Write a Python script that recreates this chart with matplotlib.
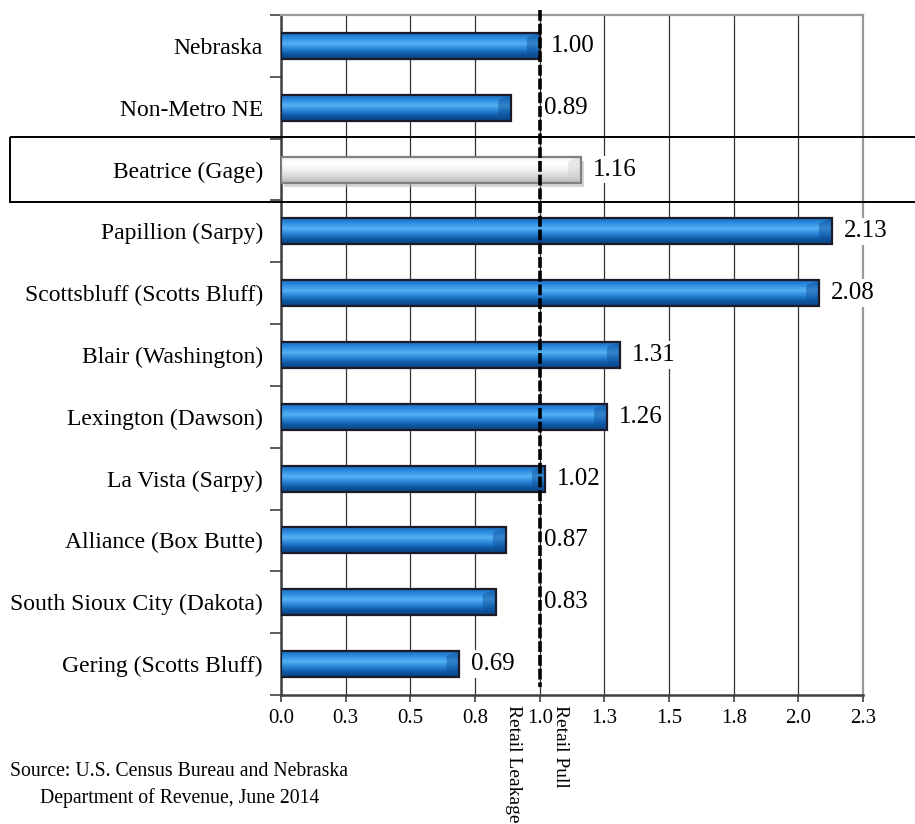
import numpy as np
import matplotlib
matplotlib.use('Agg')
import matplotlib.pyplot as plt
from matplotlib.patches import Rectangle
from matplotlib.colors import LinearSegmentedColormap
import matplotlib.transforms as mtransforms

# data
places = ['Nebraska', 'Non-Metro NE', 'Beatrice (Gage)', 'Papillion (Sarpy)',
          'Scottsbluff (Scotts Bluff)', 'Blair (Washington)', 'Lexington (Dawson)',
          'La Vista (Sarpy)', 'Alliance (Box Butte)', 'South Sioux City (Dakota)',
          'Gering (Scotts Bluff)']
pull_factor = [1.00, 0.89, 1.16, 2.13, 2.08, 1.31, 1.26, 1.02, 0.87, 0.83, 0.69]
highlight = 'Beatrice (Gage)'
ref_value = 1.0
x_ticks = [0, 0.25, 0.5, 0.75, 1.0, 1.25, 1.5, 1.75, 2.0, 2.25]
source = ['Source: U.S. Census Bureau and Nebraska', 'Department of Revenue, June 2014']

plt.rcParams['font.family'] = ['Liberation Serif', 'DejaVu Serif']

fig = plt.figure(figsize=(9.15, 8.24), dpi=100)
ax = fig.add_axes([0.3071, 0.1566, 0.6361, 0.8252])

y = np.arange(len(places))
h = 0.42

blue = LinearSegmentedColormap.from_list('b', ['#1a6cc0', '#2f8fe2', '#55b0f4', '#2a86d8', '#0f5aa6', '#0a4180'])
grey = LinearSegmentedColormap.from_list('g', ['#f4f4f4', '#ffffff', '#f0f0f0', '#d8d8d8', '#b8b8b8'])
grad = np.linspace(0, 1, 64).reshape(-1, 1)

for i, (name, v) in enumerate(zip(places, pull_factor)):
    hl = name == highlight
    if hl:
        sh = Rectangle((0.01, i - h / 2 + 0.08), v, h, facecolor='#bbbbbb', edgecolor='none',
                       alpha=0.6, zorder=2)
        ax.add_patch(sh)
    bar = ax.barh(i, v, height=h, color='none',
                  edgecolor='#808080' if hl else '#1b1b2a', linewidth=1.6, zorder=4)[0]
    img = ax.imshow(grad, cmap=grey if hl else blue, aspect='auto', origin='upper',
                    extent=(0, v, i + h / 2, i - h / 2), zorder=3)
    img.set_clip_path(bar)
    # bevel on the right end
    bev = plt.Polygon([[v - 0.05, i - h / 2 + 0.08], [v, i - h / 2], [v, i + h / 2],
                       [v - 0.05, i + h / 2 - 0.08]], closed=True,
                      facecolor='#cfcfcf' if hl else '#0d4f96', edgecolor='none', alpha=0.45, zorder=3.5)
    ax.add_patch(bev)
    bev.set_clip_path(bar)

    # labels sitting just below the reference line get pushed past it
    lx = v + 0.045
    if 0.8 < v < ref_value:
        lx = ref_value + 0.015
    ax.text(lx, i, f'{v:.2f}', fontsize=18, va='center', ha='left', zorder=5,
            bbox=dict(facecolor='white', edgecolor='none', pad=2))

ax.set_xlim(0, 2.25)
ax.set_ylim(len(places) - 0.5, -0.5)

ax.set_xticks(x_ticks)
ax.set_xticklabels([f'{np.floor(t * 10 + 0.5) / 10:.1f}' for t in x_ticks], fontsize=15)
ax.tick_params(axis='x', length=5, width=1.2, color='#404040', pad=5)
ax.grid(axis='x', color='#333333', linewidth=0.9, zorder=1)
ax.set_axisbelow(True)

ax.set_yticks(y)
ax.set_yticklabels(places, fontsize=17)
ax.set_yticks(np.arange(len(places) + 1) - 0.5, minor=True)
ax.tick_params(axis='y', which='major', length=0, pad=13)
ax.tick_params(axis='y', which='minor', length=8, width=1.2, color='#404040')

for s in ['left', 'bottom']:
    ax.spines[s].set_color('#404040')
    ax.spines[s].set_linewidth(1.8)
for s in ['top', 'right']:
    ax.spines[s].set_color('#999999')
    ax.spines[s].set_linewidth(1.6)

# reference line and its captions
ax.plot([ref_value, ref_value], [-0.58, 10.37], color='black', linewidth=2.6,
        linestyle=(0, (3, 0.8)), clip_on=False, zorder=6)
ax.annotate('Retail Leakage', xy=(ref_value, 0), xycoords=('data', 'axes fraction'),
            xytext=(-13, -7), textcoords='offset points', rotation=270,
            ha='right', va='top', fontsize=14)
ax.annotate('Retail Pull', xy=(ref_value, 0), xycoords=('data', 'axes fraction'),
            xytext=(9, -7), textcoords='offset points', rotation=270,
            ha='left', va='top', fontsize=14)

# box around the highlighted place
hi = places.index(highlight)
trans = mtransforms.blended_transform_factory(fig.transFigure, ax.transData)
box = Rectangle((0.011, hi - 0.525), 1.0, 1.05, transform=trans, fill=False,
                edgecolor='black', linewidth=1.4, clip_on=False, zorder=7)
fig.patches.append(box)

fig.text(0.011, 1 - 771 / 824, source[0], fontsize=14.2, va='center', ha='left')
fig.text(0.044, 1 - 798 / 824, source[1], fontsize=14.2, va='center', ha='left')

fig.savefig('out.png', dpi=100)
